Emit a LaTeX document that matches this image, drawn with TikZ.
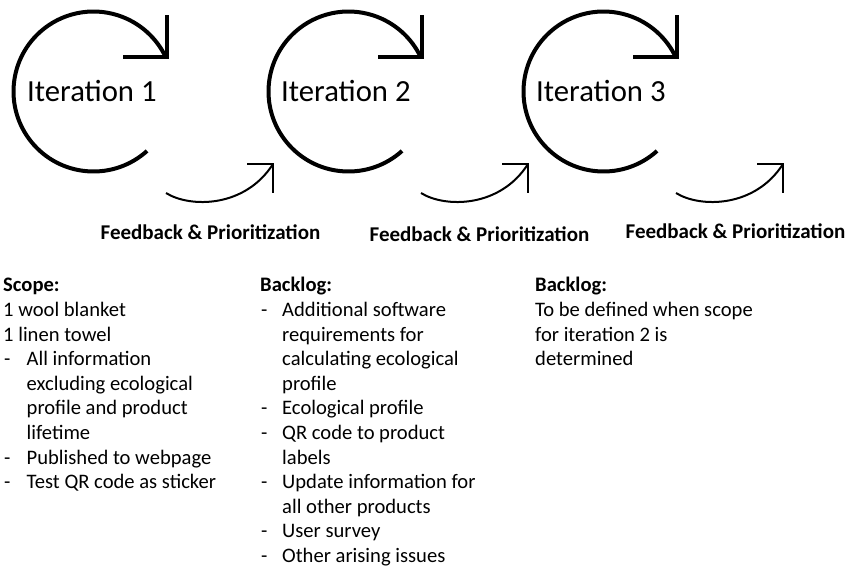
\documentclass[tikz,border=0pt]{standalone}
\usepackage{fontspec}
\setmainfont{Carlito}
\begin{document}
\begin{tikzpicture}[x=1pt,y=-1pt,
  bigloop/.style={line width=4pt,line join=miter,line cap=butt},
  smallarrow/.style={line width=2pt,line join=miter,line cap=butt},
  itlabel/.style={anchor=base west,inner sep=0pt,font=\fontsize{30.7}{36}\selectfont},
  fblabel/.style={anchor=base,inner sep=0pt,font=\fontsize{21}{25}\selectfont\bfseries},
  body/.style={anchor=base west,inner sep=0pt,font=\fontsize{20.6}{24}\selectfont},
  head/.style={body,font=\fontsize{20.6}{24}\selectfont\bfseries}]
\useasboundingbox (0,0) rectangle (846,572);

% iteration loops: open circle ending in a right-angled arrow head
\foreach \k/\cx in {1/93.5,2/348.5,3/603.5}{
  \coordinate (loop\k) at (\cx,91.5);
  \coordinate (tip\k) at (\cx+73,57.5);
  \draw[bigloop] (loop\k) ++(48:80) arc[start angle=48,end angle=335,radius=80]
    coordinate (end\k);
  \draw[bigloop] ([xshift=-43.5pt]tip\k) -- (tip\k) -- ([yshift=42.5pt]tip\k);
}
\node[itlabel] (it1) at (27,102) {Iteration 1};
\node[itlabel] (it2) at (281,102) {Iteration 2};
\node[itlabel] (it3) at (536,102) {Iteration 3};

% feedback arrows between iterations
\foreach \k/\sx in {1/166,2/421,3/676}{
  \coordinate (fs\k) at (\sx,193);
  \coordinate (ft\k) at (\sx+107,164);
  \draw[smallarrow] (fs\k) .. controls ([shift={(24,15)}]fs\k) and ([shift={(79,15)}]fs\k) .. (ft\k);
  \draw[smallarrow] ([xshift=-26pt]ft\k) -- (ft\k) -- ([yshift=-29pt]ft\k);
}
\node[fblabel] (fb1) at (210.5,240) {Feedback \& Prioritization};
\node[fblabel] (fb2) at (479.5,241) {Feedback \& Prioritization};
\node[fblabel] (fb3) at (735.5,239) {Feedback \& Prioritization};

% scope of iteration 1
\node[head] (s0) at (3,291.8) {Scope:};
\node[body] (s1) at (3,316.4) {1 wool blanket};
\node[body] (s2) at (3,341) {1 linen towel};
\node[body] (d3) at (4,365.6) {-};
\node[body] (s3) at (26.5,365.6) {All information};
\node[body] (s4) at (26.5,390.2) {excluding ecological};
\node[body] (s5) at (26.5,414.8) {profile and product};
\node[body] (s6) at (26.5,439.4) {lifetime};
\node[body] (d7) at (4,464) {-};
\node[body] (s7) at (26.5,464) {Published to webpage};
\node[body] (d8) at (4,488.6) {-};
\node[body] (s8) at (26.5,488.6) {Test QR code as sticker};

% backlog after iteration 1
\node[head] (b0) at (260,291.8) {Backlog:};
\node[body] (e1) at (261,316.4) {-};
\node[body] (b1) at (282,316.4) {Additional software};
\node[body] (b2) at (282,341) {requirements for};
\node[body] (b3) at (282,365.6) {calculating ecological};
\node[body] (b4) at (282,390.2) {profile};
\node[body] (e5) at (261,414.8) {-};
\node[body] (b5) at (282,414.8) {Ecological profile};
\node[body] (e6) at (261,439.4) {-};
\node[body] (b6) at (282,439.4) {QR code to product};
\node[body] (b7) at (282,464) {labels};
\node[body] (e8) at (261,488.6) {-};
\node[body] (b8) at (282,488.6) {Update information for};
\node[body] (b9) at (282,513.2) {all other products};
\node[body] (e10) at (261,537.8) {-};
\node[body] (b10) at (282,537.8) {User survey};
\node[body] (e11) at (261,562.4) {-};
\node[body] (b11) at (282,562.4) {Other arising issues};

% backlog after iteration 2
\node[head] (c0) at (535,291.8) {Backlog:};
\node[body] (c1) at (535,316.4) {To be defined when scope};
\node[body] (c2) at (535,341) {for iteration 2 is};
\node[body] (c3) at (535,365.6) {determined};
\end{tikzpicture}
\end{document}
